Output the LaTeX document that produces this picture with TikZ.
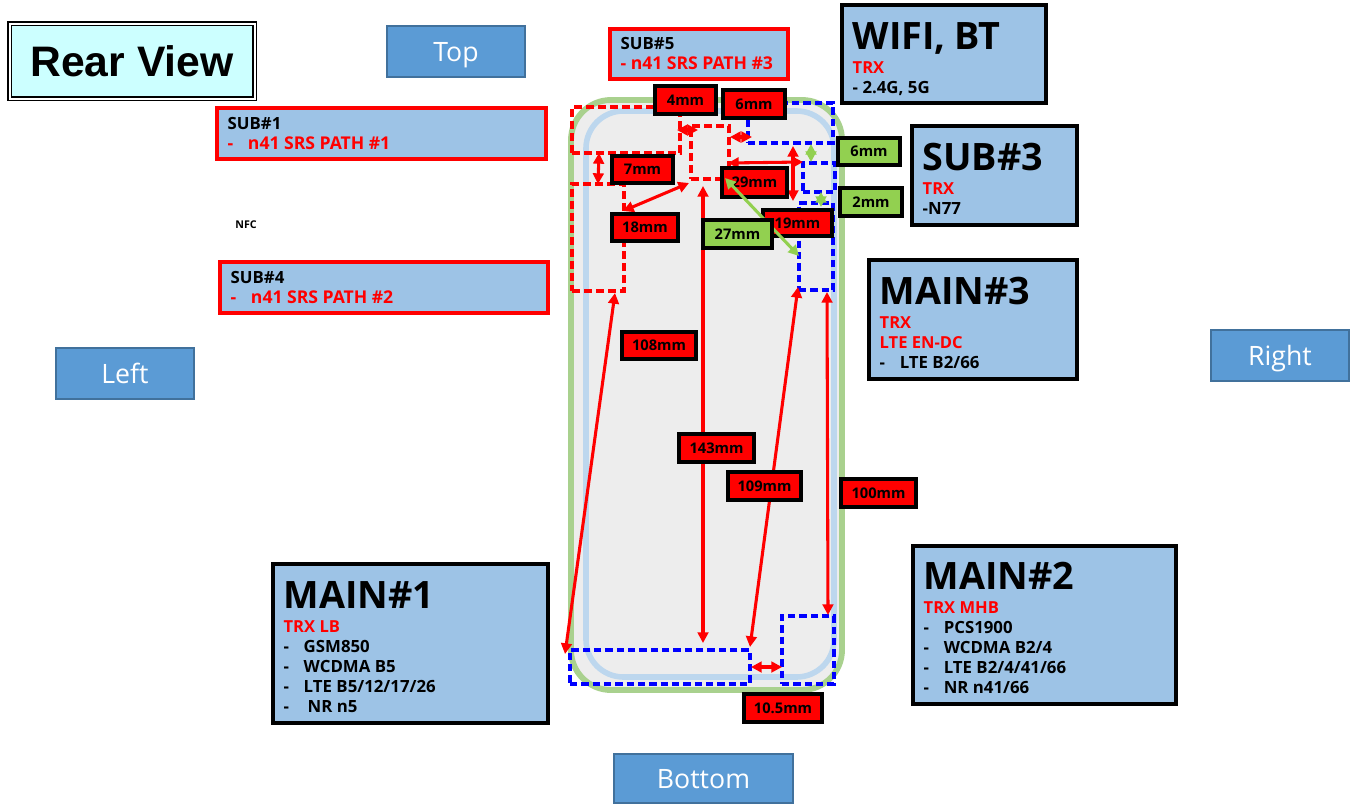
\documentclass[tikz,border=0pt]{standalone}
\usepackage{fontspec}
\setmainfont{Open Sans}
\newfontfamily\arialfont{Liberation Sans}
\usetikzlibrary{arrows.meta}
\definecolor{panelblue}{HTML}{9DC3E6}
\definecolor{tabblue}{HTML}{5B9BD5}
\definecolor{tabedge}{HTML}{41719C}
\definecolor{phonegreen}{HTML}{A9D18E}
\definecolor{phoneblue}{HTML}{BDD7EE}
\definecolor{phonegrey}{HTML}{EDEDED}
\definecolor{taggreen}{HTML}{92D050}
\definecolor{titlecyan}{HTML}{CCFFFF}
\definecolor{pure}{HTML}{FF0000}
\definecolor{dashblue}{HTML}{0000FF}
\newcommand{\boxat}[6]{\node[#1,minimum width={(#4-#2)*0.75pt},minimum height={(#5-#3)*0.75pt}] (#6) at ({(#2+#4)/2},{(#3+#5)/2})}
\newcommand{\txtat}[6]{\node[#1,text width={(#4-#2)*0.75pt-16pt},minimum height={(#5-#3)*0.75pt}] (#6) at ({(#2+#4)/2},{(#3+#5)/2})}
\newcommand{\ttl}[2][25pt]{{\fontsize{28.3}{36}\selectfont\bfseries\rule{0pt}{#1}#2\par}\vspace{3pt}}
\newcommand{\rd}[1]{{\fontsize{12.4}{15}\selectfont\bfseries\color{pure}#1\par}}
\newcommand{\bk}[1]{{\fontsize{12.6}{15}\selectfont\bfseries #1\par}}
\newcommand{\srs}[1]{{\fontsize{13.2}{15}\selectfont\bfseries\color{pure}#1\par}}
\newcommand{\dsh}{-\hspace{11pt}}
\tikzset{
  tab/.style={draw=tabedge,line width=1pt,fill=tabblue,text=white,font=\fontsize{20}{24}\selectfont,inner sep=0pt,text height=19pt,text depth=4pt},
  panel/.style={draw=black,line width=3pt,fill=panelblue,inner xsep=8pt,inner ysep=0pt,align=left},
  subpanel/.style={draw=pure,line width=3pt,fill=panelblue,inner xsep=8pt,inner ysep=0pt,align=left},
  redtag/.style={draw=black,line width=2.5pt,fill=pure,font=\fontsize{11}{13}\selectfont\bfseries,inner sep=0pt},
  greentag/.style={draw=black,line width=2.5pt,fill=taggreen,font=\fontsize{11}{13}\selectfont\bfseries,inner sep=0pt},
  reddash/.style={draw=pure,line width=2.5pt,dash pattern=on 6pt off 3pt,inner sep=0pt},
  bluedash/.style={draw=dashblue,line width=2.5pt,dash pattern=on 5.5pt off 3pt,inner sep=0pt},
  redarrow/.style={draw=pure,line width=2.3pt,{Triangle[length=8pt,width=8pt]}-{Triangle[length=8pt,width=8pt]}},
  greenarrow/.style={draw=taggreen,line width=2.3pt,{Triangle[length=8pt,width=8pt]}-{Triangle[length=8pt,width=8pt]}},
  outershell/.style={draw=phonegreen,line width=4.4pt,fill=phonegrey,rounded corners=30pt,inner sep=0pt},
  innershell/.style={draw=phoneblue,line width=4.2pt,rounded corners=28pt,inner sep=0pt},
}
\begin{document}
\begin{tikzpicture}[x=0.75pt,y=-0.75pt]
\useasboundingbox (0,0) rectangle (1355,803);
% phone
\boxat{outershell}{571}{100}{842}{690}{phone} {};
\boxat{innershell}{586}{111}{834}{677}{phoneinner} {};
% dashed regions
\boxat{reddash}{572}{107}{680}{153}{ra} {};
\boxat{reddash}{691}{126}{729}{179}{rb} {};
\boxat{reddash}{572}{184}{624}{291}{rc} {};
\boxat{bluedash}{748}{103}{833}{143}{bd} {};
\boxat{bluedash}{803}{163}{835}{192}{be} {};
\boxat{bluedash}{799}{203}{833}{290}{bf} {};
\boxat{bluedash}{570}{650}{750}{684}{bg} {};
\boxat{bluedash}{782}{616}{834}{684}{bh} {};
% arrow ends
\coordinate (a1) at (677,130); \coordinate (a2) at (698,130);
\coordinate (b1) at (730,137); \coordinate (b2) at (752,137);
\coordinate (c1) at (599,153); \coordinate (c2) at (598,184);
\coordinate (d1) at (689,183); \coordinate (d2) at (623,211);
\coordinate (e1) at (728,163); \coordinate (e2) at (803,162);
\coordinate (f1) at (793,146); \coordinate (f2) at (793,201);
\coordinate (g1) at (615,293); \coordinate (g2) at (565,654);
\coordinate (h1) at (703,186); \coordinate (h2) at (703,643);
\coordinate (i1) at (798,287); \coordinate (i2) at (750,647);
\coordinate (j1) at (827,292); \coordinate (j2) at (828,615);
\coordinate (k1) at (751,667); \coordinate (k2) at (782,667);
\coordinate (m1) at (725,178); \coordinate (m2) at (799,256);
\coordinate (n1) at (811,144); \coordinate (n2) at (811,162);
\coordinate (o1) at (821,192); \coordinate (o2) at (821,207);
\draw[redarrow] (a1) -- (a2);
\draw[redarrow] (b1) -- (b2);
\draw[redarrow] (c1) -- (c2);
\draw[redarrow] (d1) -- (d2);
\draw[redarrow] (e1) -- (e2);
\draw[redarrow] (f1) -- (f2);
\draw[redarrow] (g1) -- (g2);
\draw[redarrow] (h1) -- (h2);
\draw[redarrow] (i1) -- (i2);
\draw[redarrow] (j1) -- (j2);
\draw[redarrow] (k1) -- (k2);
% red tags
\boxat{redtag}{655}{86}{716}{114}{t4} {4mm};
\boxat{redtag}{723}{90}{785}{118}{t6} {6mm};
\boxat{redtag}{612}{156}{673}{183}{t7} {7mm};
\boxat{redtag}{612}{214}{678}{241}{t18} {18mm};
\boxat{redtag}{722}{168}{787}{197}{t29} {29mm};
\boxat{redtag}{763}{210}{832}{236}{t19} {19mm};
\boxat{redtag}{622}{332}{696}{359}{t108} {108mm};
\boxat{redtag}{679}{434}{754}{462}{t143} {143mm};
\boxat{redtag}{728}{472}{801}{500}{t109} {109mm};
\boxat{redtag}{841}{479}{916}{507}{t100} {100mm};
\boxat{redtag}{744}{694}{822}{722}{t105} {10.5mm};
% green arrows
\draw[greenarrow] (m1) -- (m2);
\draw[greenarrow] (n1) -- (n2);
\draw[greenarrow] (o1) -- (o2);
\boxat{greentag}{703}{220}{772}{248}{t27} {27mm};
\boxat{greentag}{838}{138}{900}{165}{t6b} {6mm};
\boxat{greentag}{840}{188}{902}{216}{t2} {2mm};
% direction tabs
\boxat{tab}{387}{26}{525}{77}{top} {Top};
\boxat{tab}{56}{348}{194}{399}{left} {Left};
\boxat{tab}{1211}{330}{1349}{381}{right} {Right};
\boxat{tab}{614}{754}{793}{803}{bottom} {Bottom};
% title
\node[draw=black,line width=1.3pt,double=white,double distance=1.5pt,fill=titlecyan,inner sep=0pt,minimum width={245*0.75pt},minimum height={75*0.75pt},font=\arialfont\bfseries\fontsize{32}{38}\selectfont] (title) at (132,61) {Rear View};
% panels
\txtat{subpanel}{217}{108}{546}{159}{sub1} {\bk{SUB\#1}\srs{\dsh n41 SRS PATH \#1}};
\txtat{subpanel}{220}{262}{548}{313}{sub4} {\bk{SUB\#4}\srs{\dsh n41 SRS PATH \#2}};
\txtat{subpanel}{610}{29}{788}{79}{sub5} {\bk{SUB\#5}\srs{- n41 SRS PATH \#3}};
\txtat{panel}{842}{5}{1046}{103}{wifi} {\ttl[28pt]{WIFI,\hspace{3pt} BT}\rd{TRX}\bk{- 2.4G, 5G}};
\txtat{panel}{912}{126}{1077}{225}{sub3} {\ttl{SUB\#3}\rd{TRX}\bk{-N77}};
\txtat{panel}{869}{260}{1077}{379}{main3} {\ttl{MAIN\#3}\rd{TRX}\rd{LTE EN-DC}\bk{-\hspace{11pt}LTE B2/66}};
\txtat{panel}{273}{564}{548}{723}{main1} {\ttl{MAIN\#1}\rd{TRX LB}\bk{\dsh GSM850}\bk{\dsh WCDMA B5}\bk{\dsh LTE B5/12/17/26}\bk{\dsh\hspace{3pt}NR n5}};
\txtat{panel}{913}{546}{1176}{704}{main2} {\ttl{MAIN\#2}\rd{TRX MHB}\bk{\dsh PCS1900}\bk{\dsh WCDMA B2/4}\bk{\dsh LTE B2/4/41/66}\bk{\dsh NR n41/66}};
\node[font=\fontsize{8}{10}\selectfont\bfseries,inner sep=0pt] (nfc) at (246,225) {NFC};
\end{tikzpicture}
\end{document}
